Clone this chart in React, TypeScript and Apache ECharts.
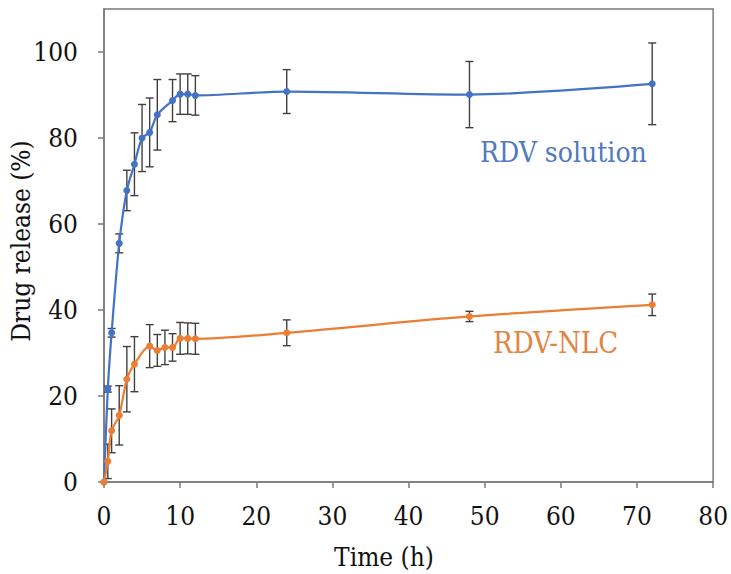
import React, { useEffect, useRef } from "react";
import * as echarts from "echarts";

const xTicksMax = 80;
const yTicksMax = 110;

const solutionTime = [0, 0.5, 1, 2, 3, 4, 5, 6, 7, 9, 10, 11, 12, 24, 48, 72];
const solutionRelease = [0, 21.6, 34.7, 55.5, 67.8, 73.9, 80.0, 81.3, 85.4, 88.7, 90.2, 90.2, 89.9, 90.8, 90.1, 92.6];
const solutionSD = [0, 0.7, 1.0, 2.2, 4.7, 7.3, 7.8, 8.0, 8.2, 4.9, 4.7, 4.7, 4.6, 5.1, 7.7, 9.5];

const nlcTime = [0, 0.5, 1, 2, 3, 4, 6, 7, 8, 9, 10, 11, 12, 24, 48, 72];
const nlcRelease = [0, 4.8, 11.9, 15.5, 23.9, 27.4, 31.6, 30.6, 31.3, 31.3, 33.4, 33.4, 33.3, 34.7, 38.5, 41.2];
const nlcSD = [0, 4.0, 5.1, 6.9, 7.6, 6.4, 5.0, 3.7, 4.0, 3.2, 3.7, 3.6, 3.6, 3.0, 1.2, 2.5];

const seriesNames = ["RDV solution", "RDV-NLC"];
const axisTitles = { x: "Time (h)", y: "Drug release (%)" };

const FONT = "DejaVu Serif Condensed, DejaVu Serif, serif";
const FS = 26;
const BLUE = "#4472C4";
const ORANGE = "#ED7D31";
const ERR = "#404040";
const AXIS = "#7a7a7a";

function errData(t: number[], v: number[], e: number[]) {
  return t
    .map((x, i) => [x, v[i] - e[i], v[i] + e[i], e[i]])
    .filter((d) => d[3] > 0);
}

function renderErr(params: any, api: any) {
  const x = api.value(0);
  const lo = api.value(1);
  const hi = api.value(2);
  const top = api.coord([x, hi]);
  const bot = api.coord([x, lo]);
  const w = 4;
  const style = { stroke: ERR, lineWidth: 1.4 };
  return {
    type: "group",
    children: [
      { type: "line", shape: { x1: top[0], y1: top[1], x2: bot[0], y2: bot[1] }, style },
      { type: "line", shape: { x1: top[0] - w, y1: top[1], x2: top[0] + w, y2: top[1] }, style },
      { type: "line", shape: { x1: bot[0] - w, y1: bot[1], x2: bot[0] + w, y2: bot[1] }, style },
    ],
  };
}

function textEl(text: string, x: number, y: number, fill: string, align: string, size: number, rotation = 0) {
  return {
    type: "text",
    x,
    y,
    rotation,
    style: {
      text,
      fontFamily: FONT,
      fontSize: size,
      fill,
      align,
      verticalAlign: "middle",
    },
  };
}

export default function App() {
  const ref = useRef<HTMLDivElement>(null);
  useEffect(() => {
    if (!ref.current) return;
    const chart = echarts.init(ref.current, null, { renderer: "svg" });
    chart.setOption({
      animation: false,
      backgroundColor: "#ffffff",
      textStyle: { fontFamily: FONT },
      grid: {
        left: 104,
        right: 16,
        top: 9,
        bottom: 92,
        show: true,
        borderColor: AXIS,
        borderWidth: 1.5,
      },
      xAxis: {
        type: "value",
        min: 0,
        max: xTicksMax,
        interval: 10,
        splitLine: { show: false },
        axisLine: { lineStyle: { color: AXIS, width: 1.5 } },
        axisTick: { show: true, length: 6, lineStyle: { color: AXIS, width: 1.5 } },
        axisLabel: { color: "#111", fontFamily: FONT, fontSize: FS, margin: 21 },
      },
      yAxis: {
        type: "value",
        min: 0,
        max: yTicksMax,
        interval: 20,
        splitLine: { show: false },
        axisLine: { show: true, lineStyle: { color: AXIS, width: 1.5 } },
        axisTick: { show: true, length: 6, lineStyle: { color: AXIS, width: 1.5 } },
        axisLabel: { color: "#111", fontFamily: FONT, fontSize: FS, margin: 26, showMaxLabel: false },
      },
      graphic: [
        textEl(axisTitles.x, 384, 557, "#111", "center", FS),
        textEl(axisTitles.y, 21, 241, "#111", "center", FS, Math.PI / 2),
        textEl(seriesNames[0], 480, 152, "#5079C2", "left", 28),
        textEl(seriesNames[1], 493, 343, "#E3843F", "left", 29),
      ],
      series: [
        {
          type: "custom",
          name: seriesNames[0] + " SD",
          renderItem: renderErr,
          data: errData(solutionTime, solutionRelease, solutionSD),
          encode: { x: 0, y: [1, 2] },
          z: 1,
          silent: true,
        },
        {
          type: "custom",
          name: seriesNames[1] + " SD",
          renderItem: renderErr,
          data: errData(nlcTime, nlcRelease, nlcSD),
          encode: { x: 0, y: [1, 2] },
          z: 1,
          silent: true,
        },
        {
          type: "line",
          name: seriesNames[0],
          data: solutionTime.map((t, i) => [t, solutionRelease[i]]),
          smooth: 0.3,
          symbol: "circle",
          symbolSize: 7,
          lineStyle: { color: BLUE, width: 2.2 },
          itemStyle: { color: BLUE },
          z: 3,
        },
        {
          type: "line",
          name: seriesNames[1],
          data: nlcTime.map((t, i) => [t, nlcRelease[i]]),
          smooth: 0.3,
          symbol: "circle",
          symbolSize: 7,
          lineStyle: { color: ORANGE, width: 2.2 },
          itemStyle: { color: ORANGE },
          z: 4,
        },
      ],
    });
    return () => chart.dispose();
  }, []);
  return (
    <div
      ref={ref}
      style={{ position: "fixed", left: 0, top: 0, width: 731, height: 574, background: "#fff" }}
    />
  );
}
